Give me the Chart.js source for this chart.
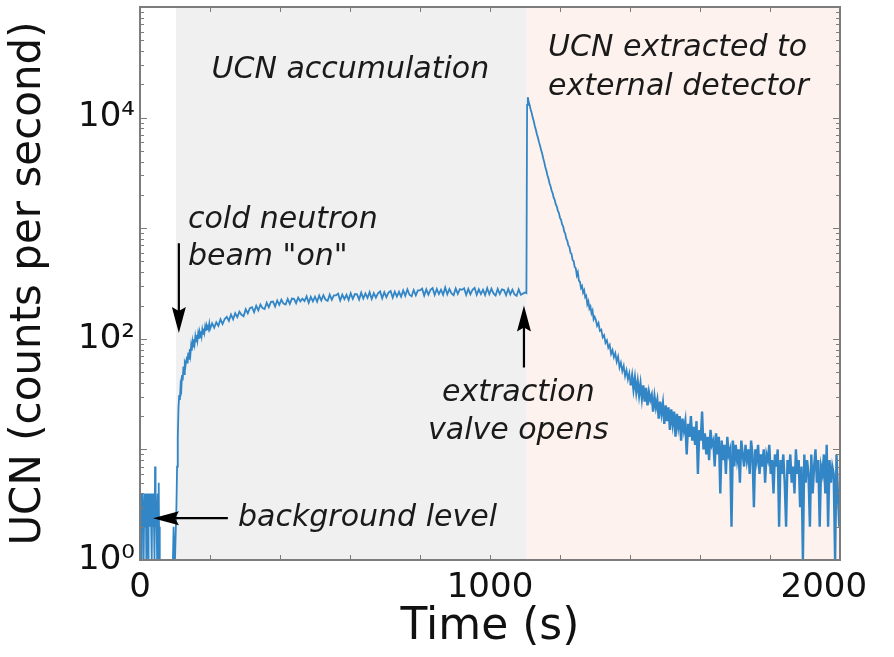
<!DOCTYPE html>
<html><head><meta charset="utf-8">
<script src="https://cdn.jsdelivr.net/npm/chart.js@4.4.0/dist/chart.umd.min.js"></script>
<style>html,body{margin:0;padding:0;background:#fff;}#wrap{width:894px;height:657px;position:relative;}</style>
</head><body><div id="wrap"><canvas id="c" width="894" height="657"></canvas></div>
<script>
// ---- data (counts per second vs time in s) ----
const bgStart = 0, bgStep = 1;
const bgCounts = [3,4,2,3,1,4,3,2,4,3, 2,1,3,4,3,2,3,4,1,2, 3,3,4,2,1,3,4,3,2,3, 4,3,2,3,1,4,3,2,3,4, 2,3,1,7,2,4,3,3,2,1, 3,4,2,3,5,1,2,1];
const gapTime = 60;
const riseStart = 94, riseStep = 2;
const riseCounts = [1,2,1,1,1,3,7,13,24,31,28,38,35,47,42,56,48,60,57,64,69,60,75,66,81,72,86,78,94,85,99,90,105,95,108,97,111,100,114,103,117,106,121,111,124,114,128,118,131,122,135,125,137];
const plateauStart = 200, plateauStep = 6;
const plateauCounts = [
122,138,126,141,131,150,136,151,158,145,
166,150,170,157,176,165,160,185,170,189,
193,174,199,181,204,190,186,212,193,216,
217,196,222,203,226,208,204,229,207,231,
230,210,236,218,231,219,242,212,239,218,
240,216,246,222,248,226,220,251,225,247,
247,256,222,251,228,250,224,258,230,254,
252,226,261,231,257,234,264,229,259,236,
258,268,232,264,238,262,271,236,267,241,
266,240,274,245,280,250,242,276,247,274,
274,284,246,280,251,277,287,249,282,254,
278,250,291,253,282,257,248,285,255,281,
277,286,249,283,253,277,289,250,280,254,
278,249,287,253,284,257,246,283,254,280,
276,248,283,252,278,252,245,280,250,256];
const jumpTimes = [1100,1104,1106,1108];
const jumpCounts = [262,259,13000,15300];
const decayStart = 1110, decayStep = 3;
const decayCounts = [
14100,13100,11900,11050,10000,9300,8400,7750,7080,6580,
6000,5580,5080,4730,4290,3960,3580,3320,3010,2810,
2550,2400,2190,2070,1890,1800,1640,1570,1430,1370,
1240,1190,1080,1040,935,895,805,770,695,675,
600,585,515,505,445,435,375,400,335,328,
288,300,262,275,238,245,205,218,187,196,
170,180,150,158];
const tailStart = 1302, tailStep = 4;
const tailCounts = [
150,131,139,118,121,103,108,92,97,83,
88,73,79,68,74,62,69,55,61,51,
57,46,52,43,49,38,46,35,44,33,
41,31,39,29,38,27,36,25,33,28,
31,22,30,24,28,19,27,21,26,17,
25,18,24,15,23,17,22,13,21,16,
20,12,19,15,18,9,17,13,20,12,
16,11,18,6,15,12,22,10,14,9,
13,8,15,11,12,7,14,9,13,4,
12,8,11,6,13,9,10,2,12,7,
11,8,10,5,12,9,7,11,8,10,
6,12,9,3,10,8,11,6,9,7,
10,5,9,8,11,6,8,4,9,7,
10,2,8,6,9,5,2,8,6,9,
5,7,4,10,6,8,3,7,1,9,
5,8,6,2,9,4,7,10,5,8,
2,7,6,9,4,11,2,8,5,7,
6,1,9,4,2];

// phases: accumulation start, extraction start, end of run (s)
const phaseBounds = [103, 1105, 2000];

// axis ticks
const xTickLabels = [0, 1000, 2000];
const xTickTexts = ['0', '1000', '2000   '];
const xMinorStep = 200;
const yTickValues = [1, 100, 10000];
const yTickTexts = ['10\u2070', '10\u00B2', '10\u2074'];

// ---- build points through the library's linear/log scales ----
function seg(start, step, arr) { return arr.map((v, i) => ({x: start + i * step, y: v})); }
const points = [].concat(
  seg(bgStart, bgStep, bgCounts),
  [{x: gapTime, y: null}],
  seg(riseStart, riseStep, riseCounts),
  seg(plateauStart, plateauStep, plateauCounts),
  jumpTimes.map((t, i) => ({x: t, y: jumpCounts[i]})),
  seg(decayStart, decayStep, decayCounts),
  seg(tailStart, tailStep, tailCounts)
);

const FONT = 'DejaVu Sans';
const TXT = '#1a1a1a';
const FRAME = '#7c7c7c';

const shading = {
  id: 'shading',
  beforeDatasetsDraw(chart) {
    const {ctx, chartArea: a, scales: {x}} = chart;
    const x0 = x.getPixelForValue(phaseBounds[0]);
    const x1 = x.getPixelForValue(phaseBounds[1]);
    const x2 = x.getPixelForValue(phaseBounds[2]);
    ctx.save();
    ctx.fillStyle = '#f0f0f0';
    ctx.fillRect(x0, a.top, x1 - x0, a.bottom - a.top);
    ctx.fillStyle = '#fdf2ed';
    ctx.fillRect(x1, a.top, x2 - x1, a.bottom - a.top);
    ctx.restore();
  }
};

const frame = {
  id: 'frame',
  afterDatasetsDraw(chart) {
    const {ctx, chartArea: a, scales: {x, y}} = chart;
    ctx.save();
    ctx.strokeStyle = FRAME;
    ctx.lineWidth = 1;
    ctx.beginPath();
    for (let t = x.min + xMinorStep; t < x.max; t += xMinorStep) {
      const px = Math.round(x.getPixelForValue(t)) + 0.5;
      ctx.moveTo(px, a.bottom); ctx.lineTo(px, a.bottom - 5);
      ctx.moveTo(px, a.top); ctx.lineTo(px, a.top + 5);
    }
    for (let d = 1; d <= y.max; d *= 10) {
      for (let m = 1; m <= 9; m++) {
        const v = m * d;
        if (v > y.max) break;
        const py = Math.round(y.getPixelForValue(v)) + 0.5;
        const len = m === 1 ? 7 : 4;
        ctx.moveTo(a.left, py); ctx.lineTo(a.left + len, py);
        ctx.moveTo(a.right, py); ctx.lineTo(a.right - len, py);
      }
    }
    ctx.stroke();
    ctx.lineWidth = 2;
    ctx.strokeRect(a.left, a.top, a.right - a.left, a.bottom - a.top);
    ctx.restore();
  }
};

// annotations placed in data coordinates (time s, counts/s)
const notes = [
  {lines: ['UCN accumulation'], t: 601, c: [27000], align: 'center'},
  {lines: ['UCN extracted to', 'external detector'], t: 1166, c: [42000, 19000], align: 'left'},
  {lines: ['cold neutron', 'beam "on"'], t: 137, c: [1180, 545], align: 'left'},
  {lines: ['extraction', 'valve opens'], t: 1081, c: [32.3, 14.6], align: 'center'},
  {lines: ['background level'], t: 280, c: [2.39], align: 'left'}
];
const arrows = [
  {from: [111, 731], to: [111, 113]},
  {from: [1097, 55], to: [1097, 200]},
  {from: [251, 2.39], to: [37, 2.39]}
];

const annot = {
  id: 'annot',
  afterDraw(chart) {
    const {ctx, scales: {x, y}} = chart;
    ctx.save();
    ctx.fillStyle = TXT;
    ctx.font = 'italic 30px "' + FONT + '"';
    ctx.textBaseline = 'middle';
    notes.forEach(n => {
      ctx.textAlign = n.align;
      n.lines.forEach((s, i) => ctx.fillText(s, x.getPixelForValue(n.t), y.getPixelForValue(n.c[i])));
    });
    ctx.strokeStyle = '#000';
    ctx.fillStyle = '#000';
    ctx.lineWidth = 2.2;
    arrows.forEach(a => {
      const x0 = x.getPixelForValue(a.from[0]), y0 = y.getPixelForValue(a.from[1]);
      const x1 = x.getPixelForValue(a.to[0]), y1 = y.getPixelForValue(a.to[1]);
      const ang = Math.atan2(y1 - y0, x1 - x0);
      const hl = 26, hw = 7;
      const bx = x1 - hl * Math.cos(ang), by = y1 - hl * Math.sin(ang);
      ctx.beginPath(); ctx.moveTo(x0, y0); ctx.lineTo(bx + 6 * Math.cos(ang), by + 6 * Math.sin(ang)); ctx.stroke();
      ctx.beginPath();
      ctx.moveTo(x1, y1);
      ctx.lineTo(bx - hw * Math.sin(ang), by + hw * Math.cos(ang));
      ctx.lineTo(bx + 4 * Math.cos(ang), by + 4 * Math.sin(ang));
      ctx.lineTo(bx + hw * Math.sin(ang), by - hw * Math.cos(ang));
      ctx.closePath(); ctx.fill();
    });
    ctx.restore();
  }
};

new Chart(document.getElementById('c'), {
  type: 'line',
  data: {datasets: [{
    data: points,
    borderColor: '#3386c6',
    borderWidth: 1.8,
    pointRadius: 0,
    tension: 0,
    spanGaps: false,
    segment: {borderWidth: c => (c.p0.parsed.x >= 1400 ? 2.4 : 1.8)}
  }]},
  options: {
    responsive: false,
    animation: false,
    devicePixelRatio: 1,
    layout: {padding: {top: 7, right: 54, left: 0, bottom: 0}},
    plugins: {legend: {display: false}, tooltip: {enabled: false}},
    scales: {
      x: {
        type: 'linear', min: 0, max: 2000,
        grid: {display: false, drawTicks: false},
        border: {display: false},
        afterBuildTicks: s => { s.ticks = xTickLabels.map(v => ({value: v})); },
        afterFit: s => { s.height = 97; s.paddingLeft = 0; s.paddingRight = 0; },
        ticks: {font: {family: FONT, size: 34}, color: '#111', padding: 8, maxRotation: 0, autoSkip: false,
                callback: v => { const i = xTickLabels.indexOf(v); return i >= 0 ? xTickTexts[i] : ''; }},
        title: {display: true, text: 'Time (s)', font: {family: FONT, size: 44}, color: '#111',
                padding: {top: 0, bottom: 3}}
      },
      y: {
        type: 'logarithmic', min: 1, max: 100000,
        grid: {display: false, drawTicks: false},
        border: {display: false},
        afterBuildTicks: s => { s.ticks = yTickValues.map(v => ({value: v})); },
        afterFit: s => { s.width = 140; s.paddingTop = 0; s.paddingBottom = 0; },
        ticks: {font: {family: FONT, size: 34}, color: '#111', padding: 5, autoSkip: false,
                callback: v => { const i = yTickValues.indexOf(v); return i >= 0 ? yTickTexts[i] : ''; }},
        title: {display: true, text: 'UCN (counts per second)', font: {family: FONT, size: 42}, color: '#111',
                padding: {top: 4, bottom: 0}}
      }
    }
  },
  plugins: [shading, frame, annot]
});
</script></body></html>
